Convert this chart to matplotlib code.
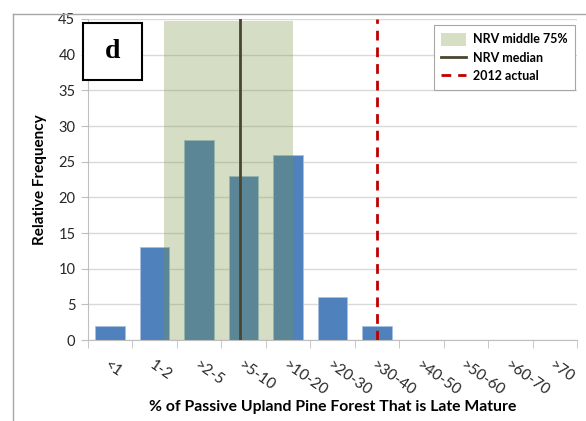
import numpy as np
import matplotlib.pyplot as plt
from matplotlib.lines import Line2D
from matplotlib.patches import Rectangle, Patch

# data
categories = ['<1', '1-2', '>2-5', '>5-10', '>10-20', '>20-30', '>30-40',
              '>40-50', '>50-60', '>60-70', '>70']
frequency = [2, 13, 28, 23, 26, 6, 2, 0, 0, 0, 0]
nrv_low = 1.2      # NRV middle 75% span (category index units)
nrv_high = 4.12
nrv_median = 2.91
actual_2012 = 6.0

plt.rcParams['font.family'] = ['Lato', 'DejaVu Sans']

fig = plt.figure(figsize=(5.86, 4.21), dpi=100)
ax = fig.add_axes([0.150, 0.192, 0.835, 0.763])

x = np.arange(len(categories))
ax.bar(x, frequency, width=0.66, color='#4F81BD', edgecolor='#A9C1DE',
       linewidth=0.6, zorder=2)
ax.axvspan(nrv_low, nrv_high, ymin=0, ymax=44.7 / 45, color='#76923C',
           alpha=0.3, lw=0, zorder=3)
ax.axvline(nrv_median, color='#4A4530', lw=2, zorder=4)
ax.axvline(actual_2012, color='#C00000', lw=2, ls=(0, (3.5, 2.5)), zorder=4)

ax.set_xlim(-0.5, len(categories) - 0.5)
ax.set_ylim(0, 45)
ax.set_yticks(range(0, 50, 5))
ax.yaxis.grid(True, color='#D9D9D9', lw=1)
ax.set_axisbelow(True)

ax.set_xticks(x)
ax.set_xticklabels(categories, rotation=-35, ha='left', va='top',
                   rotation_mode='anchor', fontsize=11)
ax.set_xticks(np.arange(-0.5, len(categories)), minor=True)
ax.tick_params(axis='x', which='major', length=0, pad=13)
ax.tick_params(axis='x', which='minor', length=6, color='#BFBFBF')
ax.tick_params(axis='y', length=5, color='#BFBFBF', labelsize=10.5,
               labelcolor='#262626', pad=4)
for lbl in ax.get_xticklabels():
    lbl.set_color('#262626')

for side in ['top', 'right']:
    ax.spines[side].set_visible(False)
for side in ['left', 'bottom']:
    ax.spines[side].set_color('#BFBFBF')

ax.set_ylabel('Relative Frequency', fontsize=11, fontweight='bold', labelpad=8)
ax.set_xlabel('% of Passive Upland Pine Forest That is Late Mature',
              fontsize=11.3, fontweight='bold')
ax.xaxis.set_label_coords(0.5, -0.185)

handles = [Patch(facecolor='#D6DEC4', edgecolor='none'),
           Line2D([], [], color='#4A4530', lw=2),
           Line2D([], [], color='#C00000', lw=2, ls=(0, (3.5, 2.5)))]
leg = fig.legend(handles, ['NRV middle 75%', 'NRV median', '2012 actual'],
                 loc='upper right', bbox_to_anchor=(581 / 586, 1 - 19 / 421),
                 fancybox=False, framealpha=1, edgecolor='#A6A6A6',
                 prop={'weight': 'bold', 'size': 9}, handlelength=2.0,
                 handleheight=1.2, borderpad=0.6, labelspacing=0.45,
                 handletextpad=0.5)
leg.get_frame().set_linewidth(0.8)

# panel letter box
fig.add_artist(Rectangle((83 / 586, 1 - 80 / 421), 59 / 586, 57 / 421,
                         transform=fig.transFigure, facecolor='white',
                         edgecolor='black', lw=1.5, zorder=10))
fig.text(112.5 / 586, 1 - 52 / 421, 'd', ha='center', va='center',
         fontsize=20, fontweight='bold', family='Liberation Serif', zorder=11)

# outer frame (left and top)
fig.add_artist(Line2D([13 / 586, 13 / 586], [0, 1 - 14 / 421],
                      transform=fig.transFigure, color='#A6A6A6', lw=1))
fig.add_artist(Line2D([13 / 586, 1], [1 - 14 / 421, 1 - 14 / 421],
                      transform=fig.transFigure, color='#A6A6A6', lw=1))

fig.savefig('out.png', dpi=100)
